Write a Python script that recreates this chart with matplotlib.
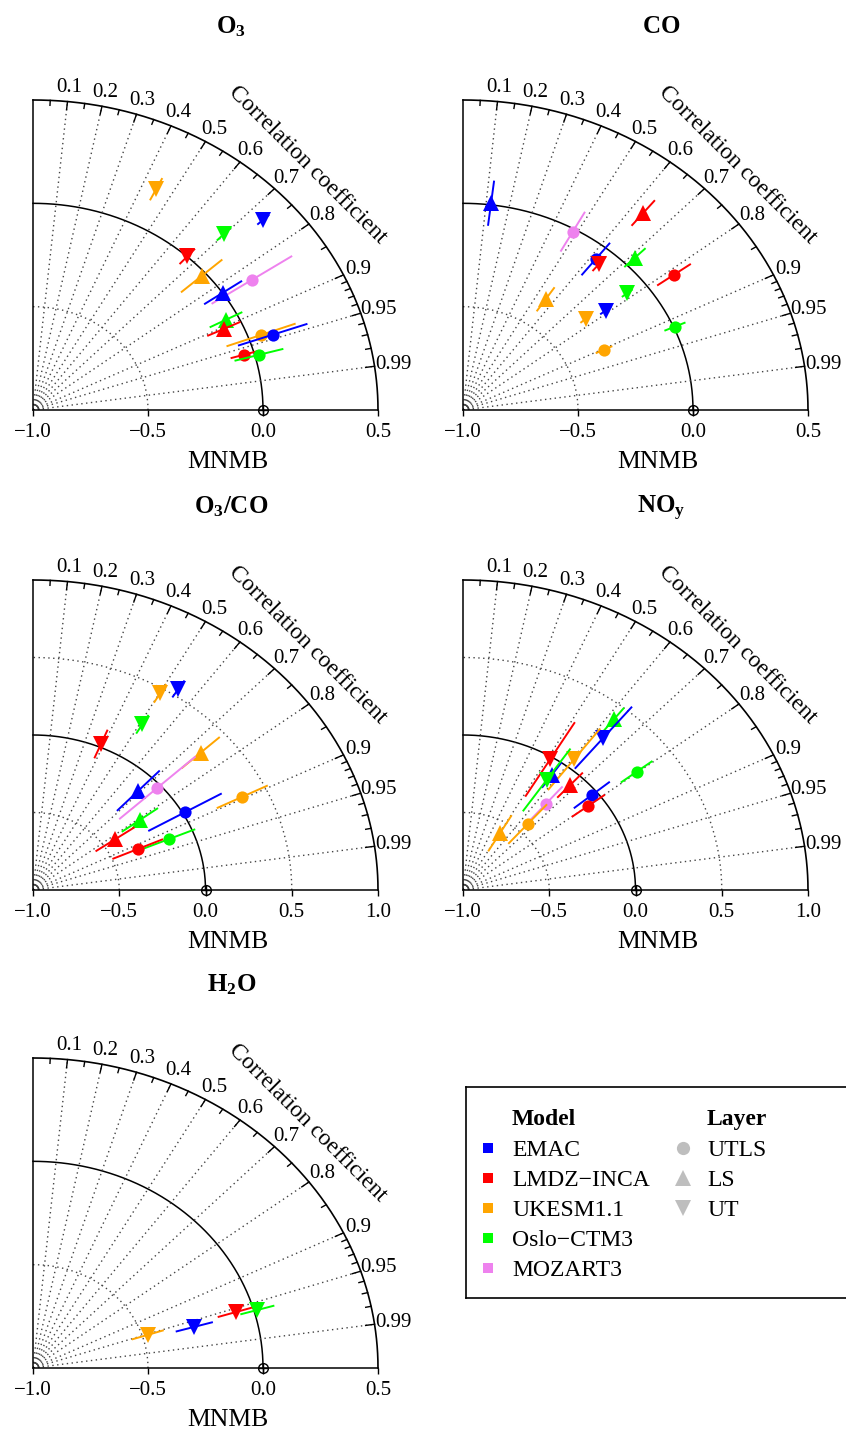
import numpy as np
import matplotlib
matplotlib.use('Agg')
import matplotlib.pyplot as plt

plt.rcParams['font.family'] = ['Liberation Serif', 'DejaVu Serif']
plt.rcParams['mathtext.fontset'] = 'custom'
plt.rcParams['mathtext.rm'] = 'Liberation Serif'
plt.rcParams['mathtext.bf'] = 'Liberation Serif:bold'
plt.rcParams['mathtext.it'] = 'Liberation Serif:italic'

# ---------------- data ----------------
models = ['EMAC', 'LMDZ\u2212INCA', 'UKESM1.1', 'Oslo\u2212CTM3', 'MOZART3']
model_colors = ['#0000FF', '#FF0000', '#FFA500', '#00FF00', '#EE82EE']
layers = ['UTLS', 'LS', 'UT']
layer_markers = ['o', '^', 'v']
corr_labels = [0.1, 0.2, 0.3, 0.4, 0.5, 0.6, 0.7, 0.8, 0.9, 0.95, 0.99]

# O3
o3_model  = [2, 0, 3, 1, 2, 4, 0, 3, 1, 2, 0, 1, 3]
o3_layer  = ['UT', 'UT', 'UT', 'UT', 'LS', 'UTLS', 'LS', 'LS', 'LS', 'UTLS', 'UTLS', 'UTLS', 'UTLS']
o3_std    = [1.195, 1.360, 1.190, 1.001, 0.979, 1.141, 1.003, 0.946, 0.918, 1.056, 1.104, 0.955, 1.018]
o3_corr   = [0.448, 0.736, 0.698, 0.670, 0.749, 0.834, 0.824, 0.887, 0.904, 0.939, 0.944, 0.960, 0.965]
o3_spread = [0.06, 0.035, 0.045, 0.05, 0.12, 0.21, 0.10, 0.08, 0.08, 0.16, 0.16, 0.06, 0.11]

# CO
co_model  = [0, 4, 0, 1, 1, 3, 1, 2, 3, 0, 2, 3, 2]
co_layer  = ['LS', 'UTLS', 'UTLS', 'UT', 'LS', 'LS', 'UTLS', 'LS', 'UT', 'UT', 'UT', 'UTLS', 'UTLS']
co_std    = [1.008, 0.986, 0.931, 0.922, 1.234, 1.050, 1.127, 0.645, 0.911, 0.785, 0.692, 1.006, 0.679]
co_corr   = [0.121, 0.484, 0.620, 0.642, 0.635, 0.712, 0.814, 0.557, 0.784, 0.790, 0.771, 0.916, 0.903]
co_spread = [0.11, 0.11, 0.10, 0.045, 0.08, 0.065, 0.09, 0.07, 0.03, 0.03, 0.03, 0.05, 0.04]

# O3/CO
oc_model  = [2, 0, 3, 1, 2, 0, 4, 2, 0, 3, 1, 3, 1]
oc_layer  = ['UT', 'UT', 'UT', 'UT', 'LS', 'LS', 'UTLS', 'UTLS', 'UTLS', 'LS', 'LS', 'UTLS', 'UTLS']
oc_std    = [1.467, 1.547, 1.243, 1.021, 1.315, 0.885, 0.977, 1.354, 1.014, 0.767, 0.577, 0.854, 0.662]
oc_corr   = [0.502, 0.545, 0.510, 0.386, 0.739, 0.690, 0.738, 0.896, 0.869, 0.808, 0.824, 0.923, 0.917]
oc_spread = [0.07, 0.065, 0.07, 0.10, 0.15, 0.18, 0.30, 0.165, 0.245, 0.13, 0.137, 0.165, 0.16]

# NOy
no_model  = [3, 0, 1, 2, 0, 3, 1, 4, 0, 1, 3, 2, 2]
no_layer  = ['LS', 'UT', 'UT', 'UT', 'LS', 'UT', 'LS', 'UTLS', 'UTLS', 'UTLS', 'UTLS', 'UTLS', 'LS']
no_std    = [1.406, 1.276, 0.982, 1.061, 0.903, 0.860, 0.918, 0.733, 0.966, 0.907, 1.263, 0.567, 0.424]
no_corr   = [0.622, 0.638, 0.514, 0.607, 0.570, 0.564, 0.676, 0.654, 0.773, 0.801, 0.797, 0.661, 0.505]
no_spread = [0.095, 0.26, 0.28, 0.25, 0.10, 0.245, 0.11, 0.15, 0.135, 0.12, 0.115, 0.17, 0.135]

# H2O
h2o_model  = [2, 0, 1, 3]
h2o_layer  = ['UT', 'UT', 'UT', 'UT']
h2o_std    = [0.524, 0.729, 0.923, 1.015]
h2o_corr   = [0.952, 0.962, 0.956, 0.961]
h2o_spread = [0.073, 0.084, 0.083, 0.077]

# ---------------- figure ----------------
W, H = 846, 1431
fig = plt.figure(figsize=(W / 100, H / 100), dpi=100)

DOT = (0, (1, 2.5))
DOTC = '#444444'


def draw_panel(rect, title, xmax, xticks, model_idx, layer_name, std, corr, spread):
    l, t, r_, b = rect
    ax = fig.add_axes([l / W, 1 - b / H, (r_ - l) / W, (b - t) / H])
    rmax = xmax + 1.0
    ax.set_xlim(-1, xmax)
    ax.set_ylim(0, rmax)
    sx = (r_ - l) / rmax
    sy = (b - t) / rmax
    for s in ['top', 'right']:
        ax.spines[s].set_visible(False)
    for s in ['left', 'bottom']:
        ax.spines[s].set_linewidth(1.1)
    ax.set_yticks([])
    ax.set_xticks(xticks)
    ax.set_xticklabels([f"{v:.1f}".replace('-', '\u2212') for v in xticks], fontsize=15)
    ax.tick_params(axis='x', direction='out', length=4.5, width=1.0, pad=5)

    th = np.linspace(0, np.pi / 2, 400)
    ax.plot(-1 + rmax * np.cos(th), rmax * np.sin(th), color='k', lw=1.2, clip_on=False)
    ax.plot(-1 + 1.0 * np.cos(th), 1.0 * np.sin(th), color='k', lw=1.1, clip_on=False)
    for rr in np.arange(0.5, rmax, 0.5):
        if abs(rr - 1.0) < 1e-6:
            continue
        ax.plot(-1 + rr * np.cos(th), rr * np.sin(th), color=DOTC, lw=1.0, ls=DOT)
    rs = 6.0 / sx
    ax.plot(-1 + rs * np.cos(th), rs * np.sin(th), color='k', lw=0.8)
    for c in corr_labels:
        a = np.arccos(c)
        ax.plot([-1, -1 + rmax * np.cos(a)], [0, rmax * np.sin(a)], color=DOTC, lw=1.0, ls=DOT)
    minor = list(np.round(np.arange(0.05, 0.91, 0.05), 2)) + list(np.round(np.arange(0.91, 0.995, 0.01), 2))
    for c in minor:
        a = np.arccos(c)
        major = any(abs(c - m) < 1e-6 for m in corr_labels)
        L = (9.0 if major else 5.5) / sx
        ax.plot([-1 + rmax * np.cos(a), -1 + (rmax - L) * np.cos(a)],
                [rmax * np.sin(a), (rmax - L) * np.sin(a)], color='k', lw=1.0, clip_on=False)
    for c in corr_labels:
        a = np.arccos(c)
        phi = np.arctan2(np.sin(a) * sy, np.cos(a) * sx)
        s = f"{c:g}"
        d = 19.0 if len(s) == 4 else 16.5
        ax.annotate(s, (-1 + rmax * np.cos(a), rmax * np.sin(a)),
                    xytext=(d * np.cos(phi), 14.5 * np.sin(phi)), textcoords='offset pixels',
                    ha='center', va='center', fontsize=15, annotation_clip=False)
    ax.text(0.797, 0.790, 'Correlation coefficient', transform=ax.transAxes,
            rotation=-45, ha='center', va='center', fontsize=17)
    ax.plot([0], [0], 'o', mfc='none', mec='k', ms=7, mew=1.0, clip_on=False, zorder=5)
    ax.plot([0], [0], '+', color='k', ms=7, mew=1.0, clip_on=False, zorder=5)

    z = 10
    for m, lay, sd, cr, sp in zip(model_idx, layer_name, std, corr, spread):
        a = np.arccos(cr)
        col = model_colors[m]
        ax.plot([-1 + (sd - sp) * np.cos(a), -1 + (sd + sp) * np.cos(a)],
                [(sd - sp) * np.sin(a), (sd + sp) * np.sin(a)], color=col, lw=1.4,
                solid_capstyle='butt', zorder=z, clip_on=False)
        k = layers.index(lay)
        ms = 8.8 if k == 0 else 11.0
        ax.plot([-1 + sd * np.cos(a)], [sd * np.sin(a)], marker=layer_markers[k], ls='none',
                color=col, ms=ms, mew=0, zorder=z + 1, clip_on=False)
        z += 2

    ax.text(0.565, -0.168, 'MNMB', transform=ax.transAxes, ha='center', va='center', fontsize=18.5)
    ax.text(0.575, 1.216, title, transform=ax.transAxes, ha='center', va='baseline', fontsize=18)
    return ax


draw_panel((33, 100, 378, 410), r'$\mathbf{O_3}$', 0.5, [-1.0, -0.5, 0.0, 0.5],
           o3_model, o3_layer, o3_std, o3_corr, o3_spread)
draw_panel((463, 100, 808, 410), r'$\mathbf{CO}$', 0.5, [-1.0, -0.5, 0.0, 0.5],
           co_model, co_layer, co_std, co_corr, co_spread)
draw_panel((33, 580, 378, 890), r'$\mathbf{O_3/CO}$', 1.0, [-1.0, -0.5, 0.0, 0.5, 1.0],
           oc_model, oc_layer, oc_std, oc_corr, oc_spread)
draw_panel((463, 580, 808, 890), r'$\mathbf{NO_y}$', 1.0, [-1.0, -0.5, 0.0, 0.5, 1.0],
           no_model, no_layer, no_std, no_corr, no_spread)
draw_panel((33, 1058, 378, 1368), r'$\mathbf{H_2O}$', 0.5, [-1.0, -0.5, 0.0, 0.5],
           h2o_model, h2o_layer, h2o_std, h2o_corr, h2o_spread)

# ---------------- legend ----------------
lx0, ly0, lx1, ly1 = 466, 1087, 900, 1298
lax = fig.add_axes([lx0 / W, 1 - ly1 / H, (lx1 - lx0) / W, (ly1 - ly0) / H])
lax.set_xlim(lx0, lx1)
lax.set_ylim(ly1, ly0)
lax.set_xticks([])
lax.set_yticks([])
for s in lax.spines.values():
    s.set_linewidth(1.2)
lax.text(512, 1117, 'Model', fontweight='bold', fontsize=17, va='center_baseline', ha='left')
lax.text(707, 1117, 'Layer', fontweight='bold', fontsize=17, va='center_baseline', ha='left')
for i, (name, col) in enumerate(zip(models, model_colors)):
    y = 1148 + 30 * i
    lax.plot([488], [y], 's', color=col, ms=7.2, mew=0)
    lax.text(512, y, name, fontsize=17, va='center_baseline', ha='left')
for i, (lay, mk) in enumerate(zip(layers, layer_markers)):
    y = 1148 + 30 * i
    lax.plot([683], [y], marker=mk, ls='none', color='#BEBEBE', ms=11 if mk != 'o' else 9.5, mew=0)
    lax.text(707, y, lay, fontsize=17, va='center_baseline', ha='left')

fig.savefig('out.png', dpi=100)
